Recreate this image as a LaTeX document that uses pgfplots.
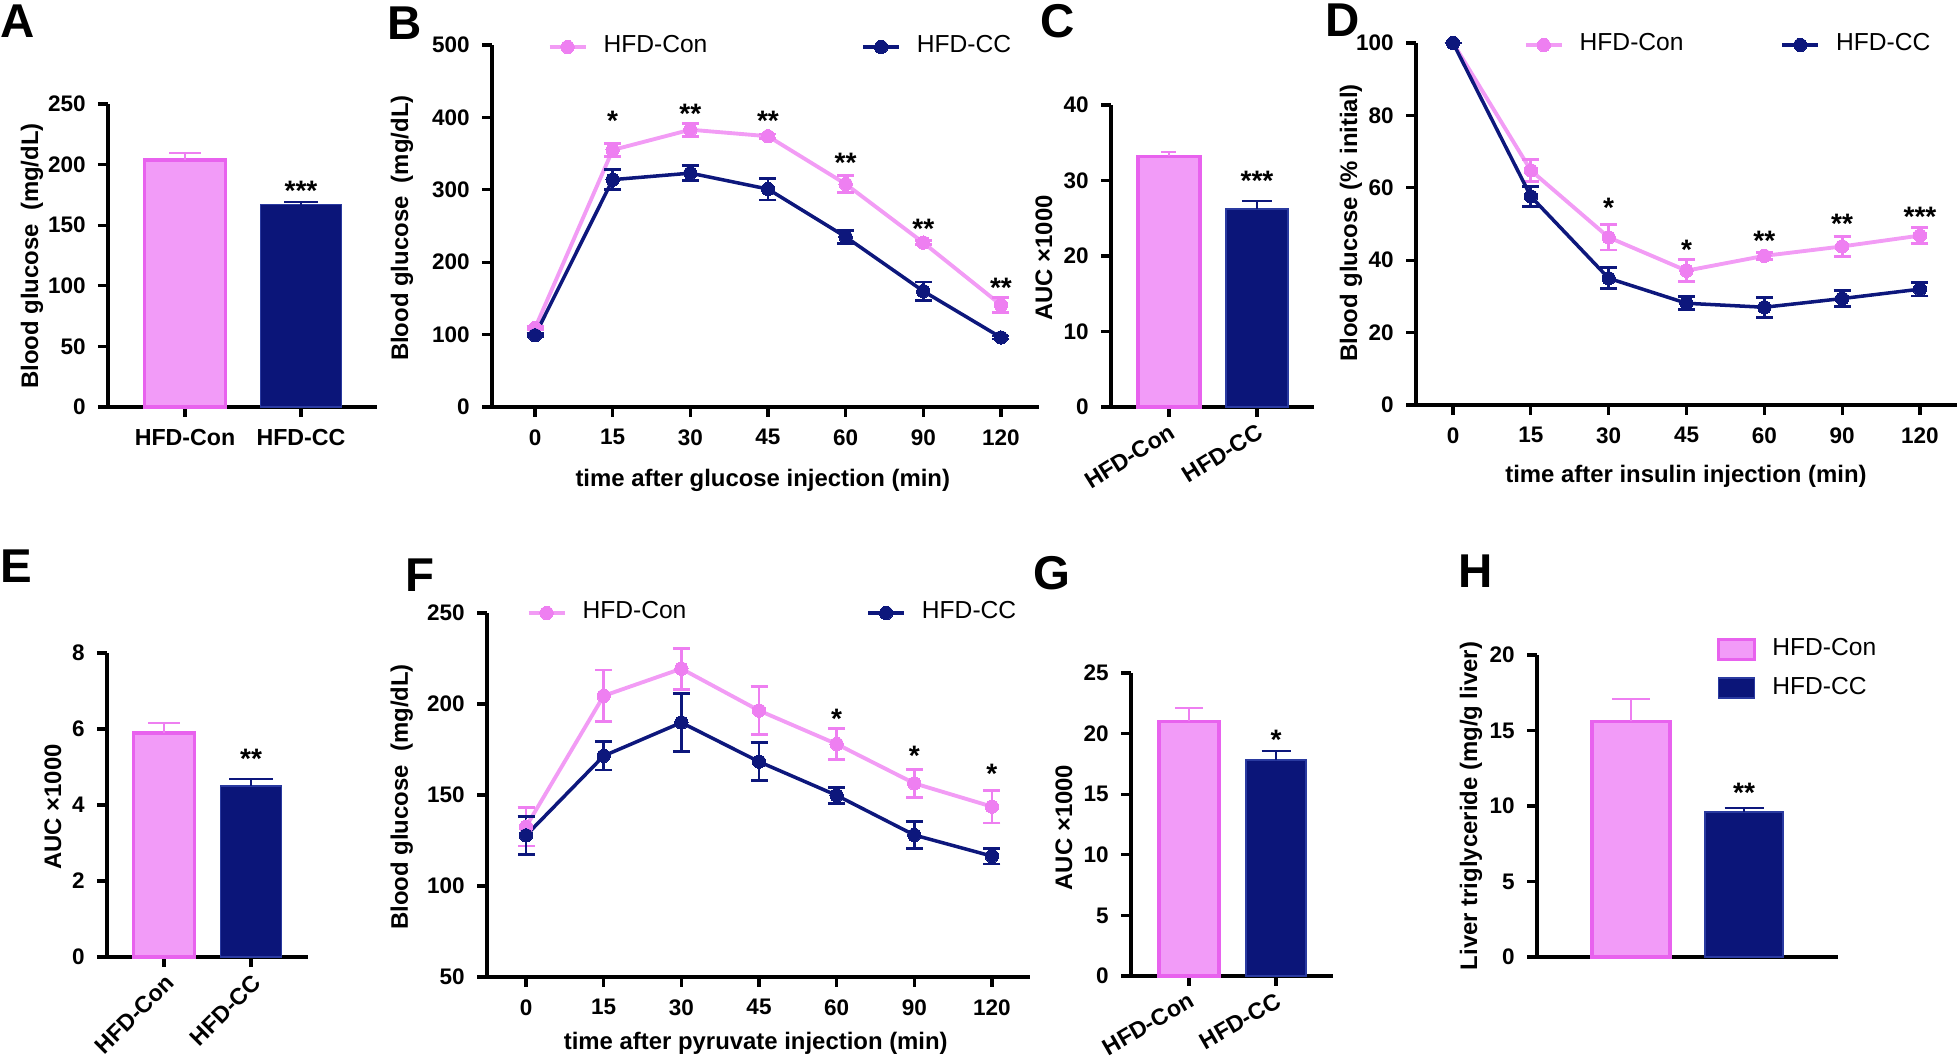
\documentclass[border=0pt]{standalone}
\usepackage{fontspec}
\setmainfont{Liberation Sans}
\usepackage{pgfplots}
\pgfplotsset{compat=1.18}

\definecolor{conFill}{HTML}{F29BF8}
\definecolor{conEdge}{HTML}{E862EE}
\definecolor{conLine}{HTML}{F29CF5}
\definecolor{conMark}{HTML}{EE7FF1}
\definecolor{ccFill}{HTML}{0B1579}
\definecolor{ccEdge}{HTML}{2A3AA0}
\definecolor{ccLine}{HTML}{0D177C}

\newcommand{\tickfont}{\fontsize{6.4}{7}\selectfont\bfseries}
\newcommand{\catfont}{\fontsize{6.6}{7}\selectfont\bfseries}
\newcommand{\labfont}{\fontsize{6.8}{8}\selectfont\bfseries}
\newcommand{\legfont}{\fontsize{7}{8}\selectfont}
\newcommand{\sigfont}{\fontsize{8}{8}\selectfont\bfseries}
\newcommand{\letfont}{\fontsize{13.5}{14}\selectfont\bfseries}

\tikzset{sig/.style={font=\sigfont, inner sep=0pt, yshift=-1.7pt}}

\pgfplotsset{
  panel/.style={
    scale only axis, clip=false, anchor=south west,
    axis lines=left,
    axis line style={-, line width=0.9pt},
    every outer x axis line/.append style={-},
    every outer y axis line/.append style={-},
    tick align=outside, tick pos=left,
    major tick length=0.1cm,
    every tick/.style={black, line width=0.9pt},
    tick label style={font=\tickfont},
    /pgf/number format/assume math mode=true,
    ylabel style={font=\labfont, anchor=center},
    xlabel style={font=\labfont, anchor=center},
    ymin=0,
  },
  barpanel/.style={panel, ybar, xtick={0,1},
    xticklabels={HFD-Con,HFD-CC}, xticklabel style={font=\catfont}},
  linepanel/.style={panel, xmin=-0.5, xtick={0,...,6},
    xticklabels={0,15,30,45,60,90,120},
    legend columns=2,
    legend image code/.code={\draw[mark repeat=2,mark phase=2,#1]
      plot coordinates {(0cm,0cm) (0.18cm,0cm) (0.36cm,0cm)};},
    legend style={draw=none, fill=none, inner sep=0pt, column sep=0pt,
      nodes={inner sep=0pt, font=\legfont}, anchor=west,
      /tikz/every odd column/.append style={column sep=0.16cm}},
  },
  conbar/.style={fill=conFill, draw=conEdge, line width=1pt, bar shift=0pt,
    error bars/.cd, y dir=plus, y explicit,
    error bar style={conMark, line width=0.6pt}},
  ccbar/.style={fill=ccFill, draw=ccEdge, line width=0.5pt, bar shift=0pt,
    error bars/.cd, y dir=plus, y explicit,
    error bar style={ccLine, line width=0.6pt}},
  conline/.style={conLine, line width=1.1pt, mark=*, mark size=1.9pt,
    mark options={fill=conMark, draw=conMark, line width=0pt},
    error bars/.cd, y dir=both, y explicit,
    error bar style={conMark, line width=0.8pt},
    error mark options={rotate=90, mark size=0.085cm, line width=0.8pt, conMark}},
  ccline/.style={ccLine, line width=1.0pt, mark=*, mark size=1.9pt,
    mark options={fill=ccLine, draw=ccLine, line width=0pt},
    error bars/.cd, y dir=both, y explicit,
    error bar style={ccLine, line width=0.8pt},
    error mark options={rotate=90, mark size=0.085cm, line width=0.8pt, ccLine}},
}

\begin{document}
\begin{tikzpicture}
\useasboundingbox (0,0) rectangle (19.59cm,10.62cm);

% panel letters
\node[anchor=base west, font=\letfont, inner sep=0pt] at (0cm,10.24cm) {A};
\node[anchor=base west, font=\letfont, inner sep=0pt] at (3.87cm,10.22cm) {B};
\node[anchor=base west, font=\letfont, inner sep=0pt] at (10.40cm,10.24cm) {C};
\node[anchor=base west, font=\letfont, inner sep=0pt] at (13.25cm,10.25cm) {D};
\node[anchor=base west, font=\letfont, inner sep=0pt] at (0cm,4.79cm) {E};
\node[anchor=base west, font=\letfont, inner sep=0pt] at (4.05cm,4.70cm) {F};
\node[anchor=base west, font=\letfont, inner sep=0pt] at (10.33cm,4.72cm) {G};
\node[anchor=base west, font=\letfont, inner sep=0pt] at (14.58cm,4.74cm) {H};

% A: fasting glucose
\begin{axis}[barpanel, at={(1.08cm,6.55cm)}, width=2.69cm, height=3.03cm,
  xmin=-0.664, xmax=1.655, ymax=250, ytick={0,50,...,250},
  ylabel={Blood glucose\ \ (mg/dL)},
  ylabel style={at={(axis description cs:-0.2825,0.498)}}]
\addplot[bar width=0.81cm, conbar,
  error mark options={rotate=90, mark size=0.16cm, line width=0.6pt, conMark}]
  coordinates {(0,204) +- (0,5.5)};
\addplot[bar width=0.81cm, ccbar,
  error mark options={rotate=90, mark size=0.17cm, line width=0.6pt, ccLine}]
  coordinates {(1,167) +- (0,2.5)};
\node[sig] at (axis cs:1,183) {***};
\end{axis}

% B: GTT
\begin{axis}[linepanel, at={(4.92cm,6.55cm)}, width=5.47cm, height=3.62cm,
  xmin=-0.554, xmax=6.49, ymax=500, ytick={0,100,...,500},
  ylabel={Blood glucose\ \ (mg/dL)},
  ylabel style={at={(axis description cs:-0.1645,0.494)}},
  xlabel={time after glucose injection (min)},
  xlabel style={at={(axis description cs:0.495,-0.2017)}},
  legend style={at={(axis description cs:0.1005,0.9945)},
    /tikz/every even column/.append style={column sep=1.54cm}}]
\addplot[conline] coordinates {
  (0,109) +- (0,2) (1,355) +- (0,8.7) (2,383) +- (0,9) (3,374) +- (0,3)
  (4,308) +- (0,12) (5,227) +- (0,3) (6,141) +- (0,10)};
\addlegendentry{HFD-Con}
\addplot[ccline] coordinates {
  (0,99) +- (0,2) (1,314) +- (0,14) (2,323) +- (0,10) (3,301) +- (0,15)
  (4,235) +- (0,9) (5,160) +- (0,12.6) (6,96) +- (0,2)};
\addlegendentry{HFD-CC}
\node[sig] at (axis cs:1,403) {*};
\node[sig] at (axis cs:2,413) {**};
\node[sig] at (axis cs:3,403) {**};
\node[sig] at (axis cs:4,345) {**};
\node[sig] at (axis cs:5,255) {**};
\node[sig] at (axis cs:6,173) {**};
\end{axis}

% C: GTT AUC
\begin{axis}[barpanel, at={(11.11cm,6.55cm)}, width=2.03cm, height=3.02cm,
  xmin=-0.659, xmax=1.648, ymax=40, ytick={0,10,...,40},
  xticklabel style={rotate=32, anchor=north east, inner sep=1pt},
  ylabel={AUC ×1000},
  ylabel style={at={(axis description cs:-0.330,0.493)}}]
\addplot[bar width=0.62cm, conbar,
  error mark options={rotate=90, mark size=0.075cm, line width=0.6pt, conMark}]
  coordinates {(0,33.2) +- (0,0.6)};
\addplot[bar width=0.62cm, ccbar,
  error mark options={rotate=90, mark size=0.15cm, line width=0.6pt, ccLine}]
  coordinates {(1,26.2) +- (0,1.1)};
\node[sig] at (axis cs:1,30.7) {***};
\end{axis}

% D: ITT
\begin{axis}[linepanel, at={(14.16cm,6.57cm)}, width=5.41cm, height=3.62cm,
  xmin=-0.476, xmax=6.476, ymax=100, ytick={0,20,...,100},
  ylabel={Blood glucose (\% initial)},
  ylabel style={at={(axis description cs:-0.120,0.503)}},
  xlabel={time after insulin injection (min)},
  xlabel style={at={(axis description cs:0.499,-0.196)}},
  legend style={at={(axis description cs:0.198,0.9945)},
    /tikz/every even column/.append style={column sep=0.97cm}}]
\addplot[conline] coordinates {
  (0,100) +- (0,0) (1,64.8) +- (0,3) (2,46.3) +- (0,3.5) (3,37.1) +- (0,3)
  (4,41.2) +- (0,1) (5,43.8) +- (0,2.8) (6,46.8) +- (0,2.2)};
\addlegendentry{HFD-Con}
\addplot[ccline] coordinates {
  (0,100) +- (0,0) (1,57.6) +- (0,2.8) (2,35) +- (0,2.9) (3,28.1) +- (0,1.8)
  (4,27) +- (0,2.8) (5,29.4) +- (0,2.2) (6,32) +- (0,1.9)};
\addlegendentry{HFD-CC}
\node[sig] at (axis cs:2,56.2) {*};
\node[sig] at (axis cs:3,44.4) {*};
\node[sig] at (axis cs:4,47) {**};
\node[sig] at (axis cs:5,51.6) {**};
\node[sig] at (axis cs:6,53.7) {***};
\end{axis}

% E: ITT AUC
\begin{axis}[barpanel, at={(1.07cm,1.05cm)}, width=2.01cm, height=3.04cm,
  xmin=-0.655, xmax=1.655, ymax=8, ytick={0,2,...,8},
  xticklabel style={rotate=45, anchor=north east, inner sep=1pt},
  ylabel={AUC ×1000},
  ylabel style={at={(axis description cs:-0.269,0.493)}}]
\addplot[bar width=0.61cm, conbar,
  error mark options={rotate=90, mark size=0.16cm, line width=0.6pt, conMark}]
  coordinates {(0,5.89) +- (0,0.27)};
\addplot[bar width=0.61cm, ccbar,
  error mark options={rotate=90, mark size=0.22cm, line width=0.6pt, ccLine}]
  coordinates {(1,4.5) +- (0,0.18)};
\node[sig] at (axis cs:1,5.37) {**};
\end{axis}

% F: PTT
\begin{axis}[linepanel, at={(4.87cm,0.85cm)}, width=5.43cm, height=3.64cm,
  xmin=-0.503, xmax=6.49, ymin=50, ymax=250, ytick={50,100,...,250},
  ylabel={Blood glucose\ \ (mg/dL)},
  ylabel style={at={(axis description cs:-0.157,0.495)}},
  xlabel={time after pyruvate injection (min)},
  xlabel style={at={(axis description cs:0.495,-0.181)}},
  legend style={at={(axis description cs:0.0718,1.0)},
    /tikz/every even column/.append style={column sep=1.80cm}}]
\addplot[conline] coordinates {
  (0,132.6) +- (0,10.6) (1,204.5) +- (0,14.2) (2,219.4) +- (0,11.3)
  (3,196.4) +- (0,13) (4,178) +- (0,8.7) (5,156.4) +- (0,7.7) (6,143.6) +- (0,9)};
\addlegendentry{HFD-Con}
\addplot[ccline] coordinates {
  (0,127.8) +- (0,10.5) (1,171.5) +- (0,7.8) (2,189.8) +- (0,15.8)
  (3,168.3) +- (0,10.5) (4,149.8) +- (0,4.3) (5,128) +- (0,7.6) (6,116.4) +- (0,4.3)};
\addlegendentry{HFD-CC}
\node[sig] at (axis cs:4,195) {*};
\node[sig] at (axis cs:5,175) {*};
\node[sig] at (axis cs:6,164.7) {*};
\end{axis}

% G: PTT AUC
\begin{axis}[barpanel, at={(11.31cm,0.86cm)}, width=2.02cm, height=3.03cm,
  xmin=-0.667, xmax=1.655, ymax=25, ytick={0,5,...,25},
  xticklabel style={rotate=30, anchor=north east, inner sep=1pt},
  ylabel={AUC ×1000},
  ylabel style={at={(axis description cs:-0.332,0.49)}}]
\addplot[bar width=0.60cm, conbar,
  error mark options={rotate=90, mark size=0.14cm, line width=0.6pt, conMark}]
  coordinates {(0,21.0) +- (0,1.1)};
\addplot[bar width=0.60cm, ccbar,
  error mark options={rotate=90, mark size=0.145cm, line width=0.6pt, ccLine}]
  coordinates {(1,17.8) +- (0,0.8)};
\node[sig] at (axis cs:1,20.0) {*};
\end{axis}

% H: liver triglyceride
\begin{axis}[panel, ybar, at={(15.37cm,1.05cm)}, width=3.01cm, height=3.02cm,
  xmin=-0.832, xmax=1.832, ymax=20, ytick={0,5,...,20}, xtick=\empty,
  ylabel={Liver triglyceride (mg/g liver)},
  ylabel style={at={(axis description cs:-0.219,0.5)}},
  legend image code/.code={\draw[#1] (0cm,-0.1cm) rectangle (0.36cm,0.1cm);},
  legend style={at={(axis description cs:0.595,1.06)}, anchor=north west,
    draw=none, fill=none, inner sep=0pt, row sep=0.16cm,
    nodes={inner sep=0pt, font=\legfont}, cells={anchor=west},
    /tikz/every odd column/.append style={column sep=0.16cm}}]
\addplot[bar width=0.78cm, conbar,
  error mark options={rotate=90, mark size=0.19cm, line width=0.6pt, conMark}]
  coordinates {(0,15.6) +- (0,1.47)};
\addlegendentry{HFD-Con}
\addplot[bar width=0.78cm, ccbar,
  error mark options={rotate=90, mark size=0.195cm, line width=0.6pt, ccLine}]
  coordinates {(1,9.62) +- (0,0.23)};
\addlegendentry{HFD-CC}
\node[sig] at (axis cs:1,11.3) {**};
\end{axis}
\end{tikzpicture}
\end{document}
